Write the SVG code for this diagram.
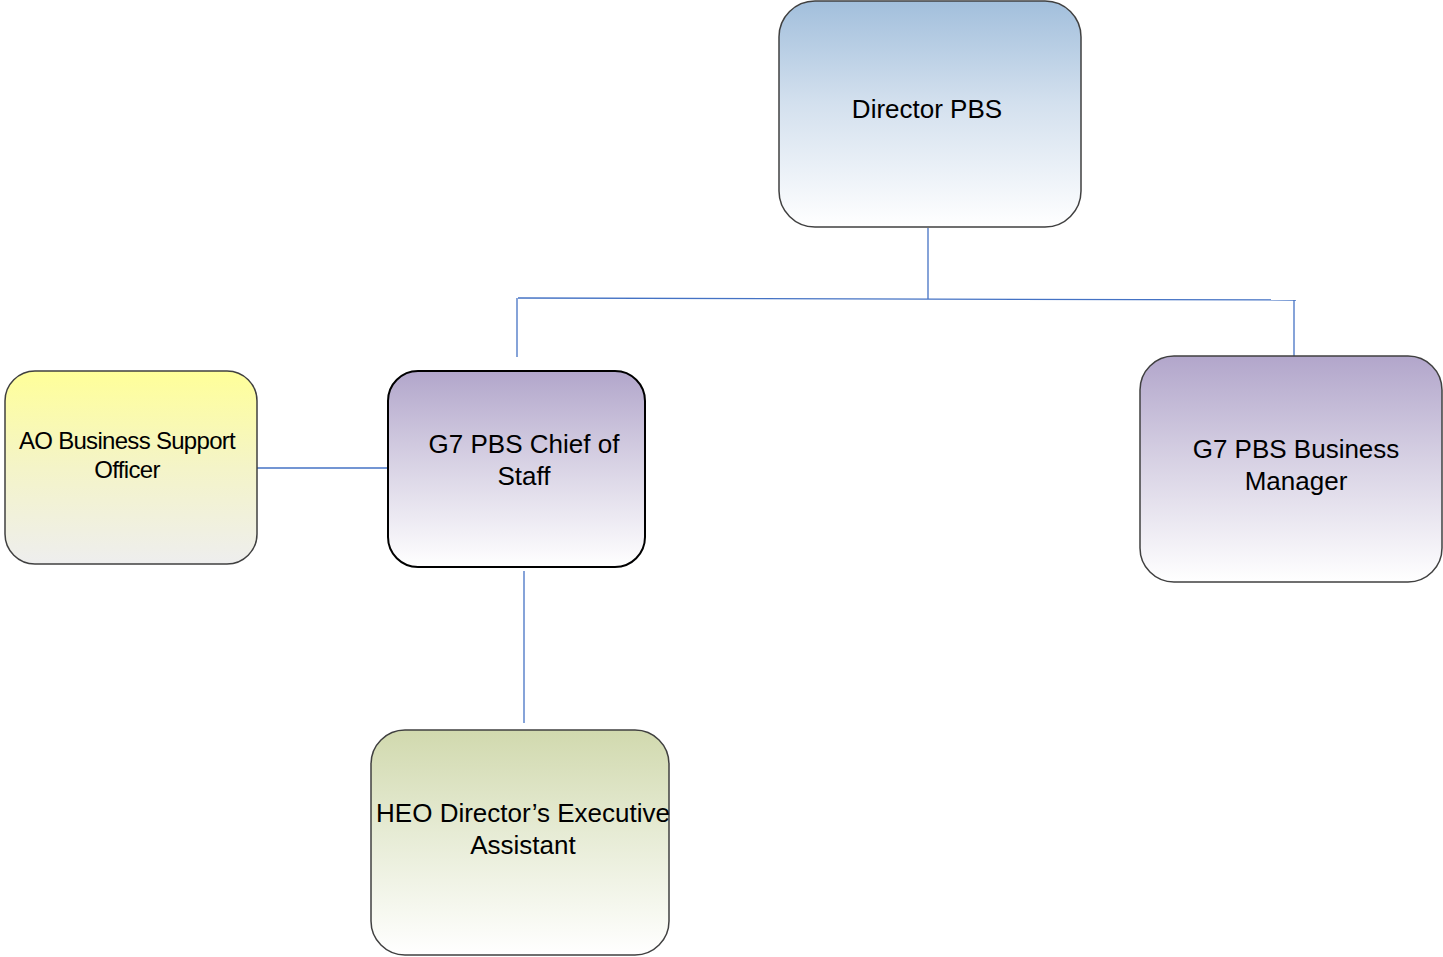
<svg xmlns="http://www.w3.org/2000/svg" width="1443" height="957" viewBox="0 0 1443 957">
<defs>
<linearGradient id="gBlue" x1="0" y1="0" x2="0" y2="1"><stop offset="0" stop-color="#a2bfdc"/><stop offset="0.45" stop-color="#d3e0ee"/><stop offset="1" stop-color="#ffffff"/></linearGradient>
<linearGradient id="gPurple" x1="0" y1="0" x2="0" y2="1"><stop offset="0" stop-color="#b2a6cb"/><stop offset="0.45" stop-color="#d6d0e3"/><stop offset="1" stop-color="#ffffff"/></linearGradient>
<linearGradient id="gOlive" x1="0" y1="0" x2="0" y2="1"><stop offset="0" stop-color="#d1d9ae"/><stop offset="0.45" stop-color="#e6ebd4"/><stop offset="1" stop-color="#ffffff"/></linearGradient>
<linearGradient id="gYellow" x1="0" y1="0" x2="0" y2="1"><stop offset="0" stop-color="#ffff99"/><stop offset="0.5" stop-color="#f4f4c8"/><stop offset="1" stop-color="#eeeeee"/></linearGradient>
</defs>
<style>
.box{stroke:#404040;stroke-width:1.5}
.dark{stroke:#000000;stroke-width:2}
.lbl{font-family:"Liberation Sans",Arial,sans-serif;font-size:26px;fill:#000;text-anchor:middle}
.sm{font-size:24px;letter-spacing:-0.7px}
.con{stroke:#4472c4;stroke-width:1.3;fill:none}
</style>
<g id="connectors">
<line class="con" x1="928" y1="228" x2="928" y2="299"/>
<line class="con" x1="518" y1="298" x2="1296" y2="300"/>
<line class="con" x1="517" y1="298" x2="517" y2="357"/>
<line class="con" x1="1294" y1="300" x2="1294" y2="356"/>
<line class="con" x1="257" y1="468" x2="388" y2="468"/>
<line class="con" x1="524" y1="571" x2="524" y2="723"/>
</g>
<g id="director">
<rect x="779" y="1" width="302" height="226" rx="36" class="box" fill="url(#gBlue)"/>
<text class="lbl" x="927" y="118">Director PBS</text>
</g>
<g id="chief">
<rect x="388" y="371" width="257" height="196" rx="30" class="dark" fill="url(#gPurple)"/>
<text class="lbl" x="524" y="453">G7 PBS Chief of</text>
<text class="lbl" x="524" y="485">Staff</text>
</g>
<g id="business">
<rect x="1140" y="356" width="302" height="226" rx="34" class="box" fill="url(#gPurple)"/>
<text class="lbl" x="1296" y="458">G7 PBS Business</text>
<text class="lbl" x="1296" y="490">Manager</text>
</g>
<g id="ao">
<rect x="5" y="371" width="252" height="193" rx="30" class="box" fill="url(#gYellow)"/>
<text class="lbl sm" x="127" y="449">AO Business Support</text>
<text class="lbl sm" x="127" y="478">Officer</text>
</g>
<g id="heo">
<rect x="371" y="730" width="298" height="225" rx="34" class="box" fill="url(#gOlive)"/>
<text class="lbl" x="523" y="822">HEO Director’s Executive</text>
<text class="lbl" x="523" y="854">Assistant</text>
</g>
</svg>
